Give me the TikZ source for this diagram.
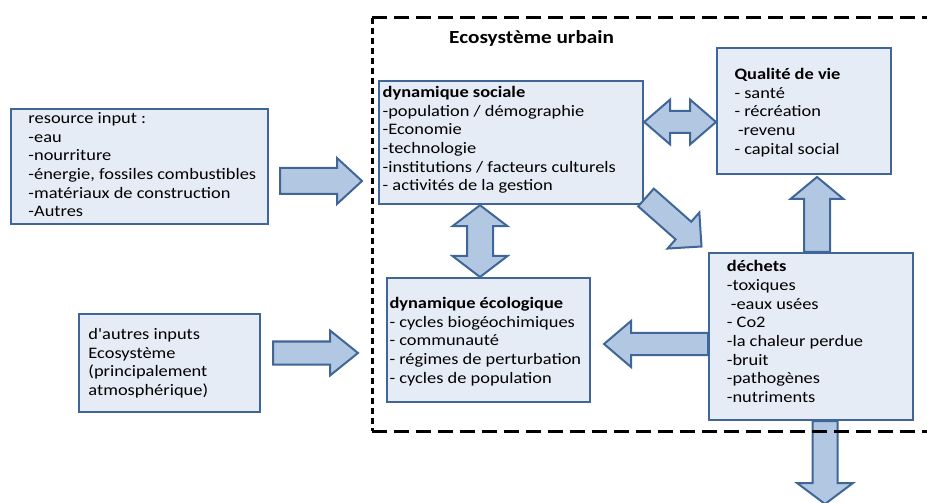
\documentclass[tikz,border=0pt]{standalone}
\usepackage{fontspec}
\setmainfont{Carlito}[FakeStretch=1.15, Ligatures=TeXOff]
\usetikzlibrary{calc}

\definecolor{boxfill}{HTML}{E6ECF5}
\definecolor{arrowfill}{HTML}{B2C7E2}
\definecolor{edge}{HTML}{3F6697}

% block arrow: #1 tail, #2 tip, #3 shaft half width, #4 head half width, #5 head length
\newcommand{\singlearrow}[5]{%
  \draw[blockarrow] let \p1=(#1), \p2=(#2),
      \n1={atan2(\y2-\y1,\x2-\x1)},
      \n2={veclen(\x2-\x1,\y2-\y1)-#5} in
    ($(\p1)+({\n1+90}:#3)$) --
    ($(\p1)+(\n1:\n2)+({\n1+90}:#3)$) --
    ($(\p1)+(\n1:\n2)+({\n1+90}:#4)$) --
    (\p2) --
    ($(\p1)+(\n1:\n2)+({\n1-90}:#4)$) --
    ($(\p1)+(\n1:\n2)+({\n1-90}:#3)$) --
    ($(\p1)+({\n1-90}:#3)$) -- cycle;}

% two-headed block arrow between #1 and #2
\newcommand{\doublearrow}[5]{%
  \draw[blockarrow] let \p1=(#1), \p2=(#2),
      \n1={atan2(\y2-\y1,\x2-\x1)},
      \n2={veclen(\x2-\x1,\y2-\y1)-#5} in
    (\p1) --
    ($(\p1)+(\n1:#5)+({\n1+90}:#4)$) --
    ($(\p1)+(\n1:#5)+({\n1+90}:#3)$) --
    ($(\p1)+(\n1:\n2)+({\n1+90}:#3)$) --
    ($(\p1)+(\n1:\n2)+({\n1+90}:#4)$) --
    (\p2) --
    ($(\p1)+(\n1:\n2)+({\n1-90}:#4)$) --
    ($(\p1)+(\n1:\n2)+({\n1-90}:#3)$) --
    ($(\p1)+(\n1:#5)+({\n1-90}:#3)$) --
    ($(\p1)+(\n1:#5)+({\n1-90}:#4)$) -- cycle;}

\begin{document}
\begin{tikzpicture}[x=1bp, y=-1bp,
  box/.style={draw=edge, fill=boxfill, line width=2.2bp, rectangle,
    anchor=north west, inner sep=0pt},
  txt/.style={anchor=north west, inner sep=0pt, align=left,
    font=\fontsize{16bp}{18.65bp}\selectfont, text=black},
  blockarrow/.style={draw=edge, fill=arrowfill, line width=2bp, line join=miter},
  frameh/.style={line width=3bp, dash pattern=on 14.5bp off 7.5bp},
  framev/.style={line width=3bp, dash pattern=on 6bp off 4bp}]

\useasboundingbox (0,0) rectangle (927,503);

% boxes
\node[box, minimum width=257bp, minimum height=115bp] (res) at (10,108) {};
\node[box, minimum width=181bp, minimum height=98bp] (oth) at (78,313) {};
\node[box, minimum width=264bp, minimum height=123bp] (soc) at (378,80) {};
\node[box, minimum width=174bp, minimum height=126bp] (qual) at (716,47) {};
\node[box, minimum width=203bp, minimum height=124bp] (eco) at (386,277) {};
\node[box, minimum width=204bp, minimum height=167bp] (dech) at (708,252) {};

% connector end points
\coordinate (a1s) at (280,181);
\coordinate (a1e) at (362,181);
\coordinate (a2s) at (273,353);
\coordinate (a2e) at (358,353);
\coordinate (hs) at (soc.east |- 0,122);
\coordinate (he) at (qual.west |- 0,122);
\coordinate (vs) at (480,0 |- soc.south);
\coordinate (ve) at (480,0 |- eco.north);
\coordinate (ds) at (646,197.5);
\coordinate (de) at (701.5,246.5);
\coordinate (us) at (817,0 |- dech.north);
\coordinate (ue) at (817,177);
\coordinate (ls) at (dech.west |- 0,344);
\coordinate (le) at (604,344);
\coordinate (ws) at (825,0 |- dech.south);
\coordinate (we) at (825,504);

% block arrows
\singlearrow{a1s}{a1e}{13bp}{23bp}{25bp}
\singlearrow{a2s}{a2e}{11.5bp}{22.5bp}{28bp}
\doublearrow{hs}{he}{11bp}{22.5bp}{26bp}
\doublearrow{vs}{ve}{13bp}{27.5bp}{21bp}
\singlearrow{ds}{de}{11.8bp}{24bp}{24bp}
\singlearrow{us}{ue}{13bp}{26.5bp}{22bp}
\singlearrow{ls}{le}{11bp}{23bp}{27bp}
\singlearrow{ws}{we}{12.5bp}{28bp}{21bp}

% dashed boundary of the urban ecosystem
\draw[frameh] (372,18) -- (940,18);
\draw[framev] (372,18) -- (372,431);
\draw[frameh] (372,431) -- (940,431);

% texts
\node[anchor=base west, inner sep=0pt, font=\fontsize{18.5bp}{22bp}\selectfont\bfseries] (title) at (449,44) {Ecosystème urbain};

\node[txt] (tres) at (28.3,110.2) {\strut resource input :\\-eau\\-nourriture\\-énergie, fossiles combustibles\\-matériaux de construction\\-Autres};

\node[txt] (toth) at (88.3,326.3) {\strut d'autres inputs\\Ecosystème\\(principalement\\atmosphérique)};

\node[txt] (tsoc) at (382.5,84.4) {\strut\textbf{dynamique sociale}\\-population / démographie\\-Economie\\-technologie\\-institutions / facteurs culturels\\- activités de la gestion};

\node[txt] (tqual) at (734.3,66.2) {\strut\textbf{Qualité de vie}\\- santé\\- récréation\\\hspace*{3.5bp}-revenu\\- capital social};

\node[txt] (teco) at (389.3,295.2) {\strut\textbf{dynamique écologique}\\- cycles biogéochimiques\\- communauté\\- régimes de perturbation\\- cycles de population};

\node[txt] (tdech) at (726.7,258.6) {\strut\textbf{déchets}\\-toxiques\\\hspace*{4bp}-eaux usées\\- Co2\\-la chaleur perdue\\-bruit\\-pathogènes\\-nutriments};

\end{tikzpicture}
\end{document}
